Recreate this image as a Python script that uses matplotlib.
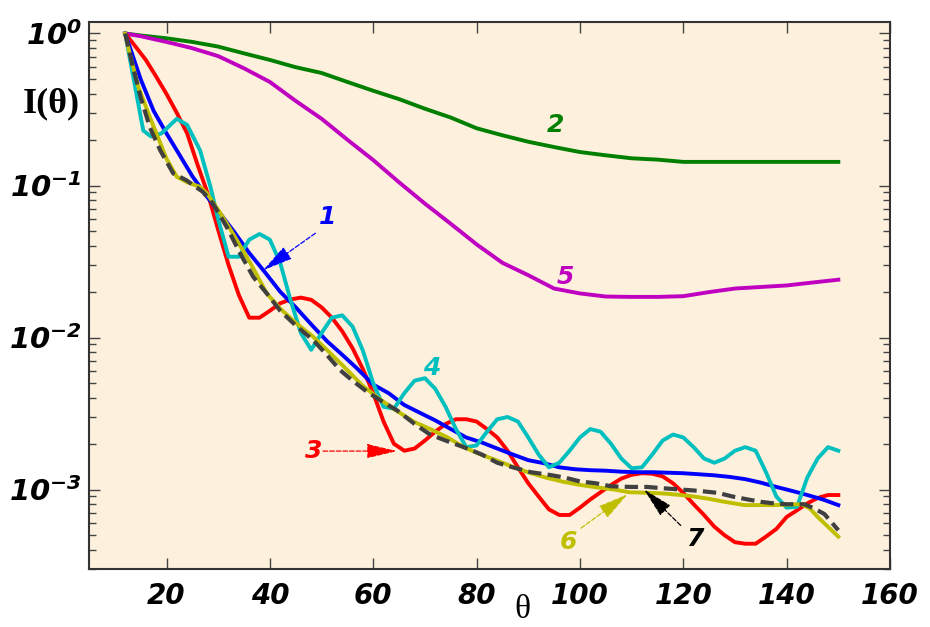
import numpy as np
import matplotlib
matplotlib.use('Agg')
import matplotlib.pyplot as plt
from matplotlib.ticker import LogLocator, FixedLocator, FuncFormatter, NullFormatter

# --- data ---
th_1 = [12, 15, 17.5, 20, 22, 25, 28, 30, 33, 36, 39, 42, 45, 48, 51, 54, 57, 60, 63, 66, 69, 72,
        75, 78, 81, 84, 87, 90, 93, 96, 99, 102, 105, 108, 111, 114, 117, 120, 123, 126, 129, 132,
        135, 138, 141, 144, 147, 150]
I_1 = [1.0, 0.5, 0.31, 0.22, 0.17, 0.115, 0.083, 0.068, 0.05, 0.036, 0.027, 0.02, 0.0158, 0.0122,
       0.0095, 0.0077, 0.0062, 0.0049, 0.0043, 0.0036, 0.0032, 0.00285, 0.0025, 0.0022, 0.00204,
       0.00186, 0.0017, 0.00156, 0.00149, 0.0014, 0.00136, 0.00134, 0.00133, 0.00131, 0.0013,
       0.0013, 0.00129, 0.00128, 0.00126, 0.00124, 0.00121, 0.00117, 0.00111, 0.00104, 0.00098,
       0.00092, 0.00086, 0.00079]

th_2 = [12, 15, 20, 25, 30, 35, 40, 45, 50, 55, 60, 65, 70, 75, 80, 85, 90, 95, 100, 105, 110,
        115, 120, 125, 130, 135, 140, 145, 150]
I_2 = [1.0, 0.97, 0.93, 0.88, 0.82, 0.74, 0.67, 0.60, 0.55, 0.48, 0.42, 0.37, 0.32, 0.28, 0.238,
       0.214, 0.194, 0.179, 0.166, 0.158, 0.151, 0.148, 0.143, 0.143, 0.143, 0.143, 0.143, 0.143,
       0.143]

th_3 = [12, 14, 16, 18, 20, 22, 24, 26, 28, 30, 32, 34, 36, 38, 40, 42, 44, 46, 48, 50, 52, 54, 56,
        58, 60, 62, 64, 66, 68, 70, 72, 74, 76, 78, 80, 82, 84, 86, 88, 90, 92, 94, 96, 98, 100,
        102, 104, 106, 108, 110, 112, 114, 116, 118, 120, 122, 124, 126, 128, 130, 132, 134, 136,
        138, 140, 142, 144, 146, 148, 150]
I_3 = [1.0, 0.82, 0.67, 0.52, 0.40, 0.30, 0.22, 0.137, 0.088, 0.051, 0.03, 0.019, 0.0135, 0.0135,
       0.015, 0.0168, 0.0178, 0.0183, 0.0177, 0.0158, 0.0135, 0.011, 0.0085, 0.0062, 0.0043,
       0.0028, 0.002, 0.0018, 0.00186, 0.0021, 0.0024, 0.0027, 0.0029, 0.0029, 0.0028, 0.0025,
       0.0022, 0.0018, 0.0014, 0.0011, 0.0009, 0.00074, 0.00068, 0.00068, 0.00076, 0.00086,
       0.00096, 0.00107, 0.00118, 0.00125, 0.00128, 0.00127, 0.00122, 0.0011, 0.00095, 0.0008,
       0.00068, 0.00057, 0.0005, 0.00045, 0.00044, 0.00044, 0.00049, 0.00055, 0.00066, 0.00073,
       0.00081, 0.00088, 0.00092, 0.00092]

th_4 = [12, 15.5, 17, 19, 22, 24, 26.5, 28.5, 30, 32, 34, 36, 38, 40, 42, 44, 46, 48, 50, 52, 54,
        56, 58, 60, 62, 64, 66, 68, 70, 72, 74, 76, 78, 80, 82, 84, 86, 88, 90, 92, 94, 96, 98, 100,
        102, 104, 106, 108, 110, 112, 114, 116, 118, 120, 122, 124, 126, 128, 130, 132, 134, 136,
        138, 140, 142, 144, 146, 148, 150]
I_4 = [1.0, 0.23, 0.21, 0.22, 0.275, 0.25, 0.17, 0.098, 0.06, 0.034, 0.034, 0.044, 0.048, 0.044,
       0.031, 0.0176, 0.0107, 0.0083, 0.0107, 0.0135, 0.014, 0.0118, 0.0082, 0.005, 0.0035,
       0.0034, 0.0043, 0.0052, 0.0054, 0.0046, 0.0035, 0.0025, 0.0019, 0.00195, 0.0024, 0.0029,
       0.003, 0.0028, 0.0022, 0.0017, 0.0014, 0.0015, 0.0018, 0.0022, 0.0025, 0.0024, 0.002,
       0.0016, 0.00138, 0.0014, 0.0017, 0.0021, 0.0023, 0.0022, 0.0019, 0.0016, 0.0015, 0.0016,
       0.0018, 0.0019, 0.0018, 0.0013, 0.0009, 0.00076, 0.00077, 0.0012, 0.0016, 0.0019, 0.0018]

th_5 = [12, 15, 20, 25, 30, 35, 40, 45, 50, 55, 60, 65, 70, 75, 80, 85, 90, 95, 100, 105, 110,
        115, 120, 125, 130, 135, 140, 145, 150]
I_5 = [1.0, 0.96, 0.88, 0.80, 0.71, 0.59, 0.48, 0.36, 0.275, 0.20, 0.147, 0.105, 0.076, 0.056,
       0.041, 0.031, 0.0257, 0.021, 0.0195, 0.0186, 0.0185, 0.0185, 0.0187, 0.0199, 0.021,
       0.0215, 0.022, 0.023, 0.024]

th_6 = [12, 12.6, 14.5, 16.8, 18.8, 20, 22, 24, 26.5, 27.8, 30.4, 32.9, 36.2, 39.4, 42, 45, 48.4,
        51.5, 55, 58, 61.4, 64.5, 67.8, 71, 74.4, 77.5, 80.8, 84, 87.2, 90.5, 93.7, 97, 100.2,
        103.5, 106.6, 109.5, 113.7, 116.5, 119.5, 122, 124.8, 128, 131.8, 137.6, 142.8, 144.5,
        146, 150]
I_6 = [1.0, 0.81, 0.45, 0.28, 0.19, 0.15, 0.114, 0.105, 0.098, 0.089, 0.066, 0.048, 0.031,
       0.0195, 0.0155, 0.0125, 0.0101, 0.008, 0.0061, 0.0048, 0.0039, 0.0033, 0.0028, 0.0025,
       0.0022, 0.0019, 0.0017, 0.00155, 0.0014, 0.00128, 0.00119, 0.00112, 0.00107, 0.00103,
       0.001, 0.00096, 0.00095, 0.00094, 0.00092, 0.0009, 0.00087, 0.00083, 0.00079, 0.00079,
       0.0008, 0.00075, 0.00066, 0.00049]

th_7 = [12, 13.5, 15, 16.8, 18.8, 21.3, 23.9, 27, 29, 31.7, 34.2, 36.8, 39.4, 42, 45, 48.4, 51,
        53.6, 56, 58.8, 61.7, 64.7, 68, 71, 74, 77.5, 81, 84, 87, 90.5, 94, 97, 100, 103, 106, 110,
        113, 116, 119.5, 123, 126.7, 129.5, 132.5, 135, 137.6, 140, 143.4, 145, 147.3, 150]
I_7 = [1.0, 0.6, 0.38, 0.24, 0.17, 0.12, 0.108, 0.091, 0.076, 0.053, 0.036, 0.025, 0.0195, 0.015,
       0.012, 0.0096, 0.0077, 0.0061, 0.0052, 0.0044, 0.0038, 0.0033, 0.0027, 0.0023, 0.0021,
       0.0019, 0.0017, 0.0015, 0.0014, 0.0013, 0.00125, 0.0012, 0.00113, 0.0011, 0.00105,
       0.00104, 0.00104, 0.00102, 0.001, 0.00098, 0.00095, 0.0009, 0.00086, 0.00083, 0.00081,
       0.0008, 0.0008, 0.00076, 0.00069, 0.00054]

x_ticks = [20, 40, 60, 80, 100, 120, 140, 160]
y_ticks = [1e-3, 1e-2, 1e-1, 1e0]

plt.rcParams['mathtext.fontset'] = 'custom'
plt.rcParams['mathtext.rm'] = 'DejaVu Sans:italic:bold'
plt.rcParams['mathtext.it'] = 'DejaVu Sans:italic:bold'
plt.rcParams['mathtext.bf'] = 'DejaVu Sans:italic:bold'

fig = plt.figure(figsize=(9.3, 6.27), dpi=100)
ax = fig.add_axes([0.0957, 0.0925, 0.8613, 0.8724])
ax.set_facecolor('#fdf0dc')

lw = 2.8
ax.plot(th_2, I_2, color='#007f00', lw=lw)
ax.plot(th_5, I_5, color='#c000c0', lw=lw)
ax.plot(th_3, I_3, color='#ff0000', lw=lw)
ax.plot(th_1, I_1, color='#0000ff', lw=lw)
ax.plot(th_4, I_4, color='#00bfbf', lw=lw)
ax.plot(th_6, I_6, color='#bfbf00', lw=lw)
ax.plot(th_7, I_7, color='#404040', lw=3.0, dashes=(3.2, 1.5))

ax.set_yscale('log')
ax.set_xlim(5, 160)
ax.set_ylim(3.0e-4, 1.19)

ax.xaxis.set_major_locator(FixedLocator(x_ticks))
ax.yaxis.set_major_locator(FixedLocator(y_ticks))
ax.yaxis.set_minor_locator(LogLocator(base=10, subs=np.arange(2, 10)))
ax.yaxis.set_minor_formatter(NullFormatter())
ax.yaxis.set_major_formatter(FuncFormatter(lambda v, p: r'$\mathrm{10^{%d}}$' % round(np.log10(v))))

ax.tick_params(which='both', direction='in', top=True, right=True, color='#444444', width=1)
ax.tick_params(which='major', length=8)
ax.tick_params(which='minor', length=5)
ax.tick_params(axis='x', pad=9)
ax.tick_params(axis='y', pad=5)
for lab in ax.get_xticklabels():
    lab.set_fontsize(20)
    lab.set_fontweight('heavy')
    lab.set_fontstyle('italic')
for lab in ax.get_yticklabels():
    lab.set_fontsize(21)
for sp in ax.spines.values():
    sp.set_color('#333333')
    sp.set_linewidth(1.5)

fig.text(0.0548, 0.834, 'I(θ)', ha='center', va='center', fontsize=26,
         family='Liberation Serif', weight='bold')
fig.text(0.562, 0.003, 'θ', ha='center', va='bottom', fontsize=24, family='Liberation Serif')

# curve labels
lab_kw = dict(fontsize=18, weight='bold', style='italic', ha='center', va='center')
ax.text(51.1, 0.0618, '1', color='#0000ff', **lab_kw)
ax.text(95.3, 0.249, '2', color='#007f00', **lab_kw)
ax.text(48.4, 0.00179, '3', color='#ff0000', **lab_kw)
ax.text(71.4, 0.0063, '4', color='#00bfbf', **lab_kw)
ax.text(97.2, 0.025, '5', color='#c000c0', **lab_kw)
ax.text(97.8, 0.00045, '6', color='#bfbf00', **lab_kw)
ax.text(122.2, 0.00047, '7', color='black', **lab_kw)

def arrow(tail, tip, color):
    ax.annotate('', xy=tip, xytext=tail,
                arrowprops=dict(arrowstyle='-|>,head_length=1.9,head_width=0.45',
                                color=color, lw=0.9, ls='--', shrinkA=0, shrinkB=0,
                                mutation_scale=10))

arrow((48.8, 0.0485), (38.7, 0.0277), '#0000ff')
arrow((50.3, 0.00179), (64.6, 0.00179), '#ff0000')
arrow((100.2, 0.000557), (109.2, 0.00093), '#bfbf00')
arrow((119.5, 0.00058), (112.4, 0.001), 'black')

fig.savefig('out.png', dpi=100, facecolor='white')
